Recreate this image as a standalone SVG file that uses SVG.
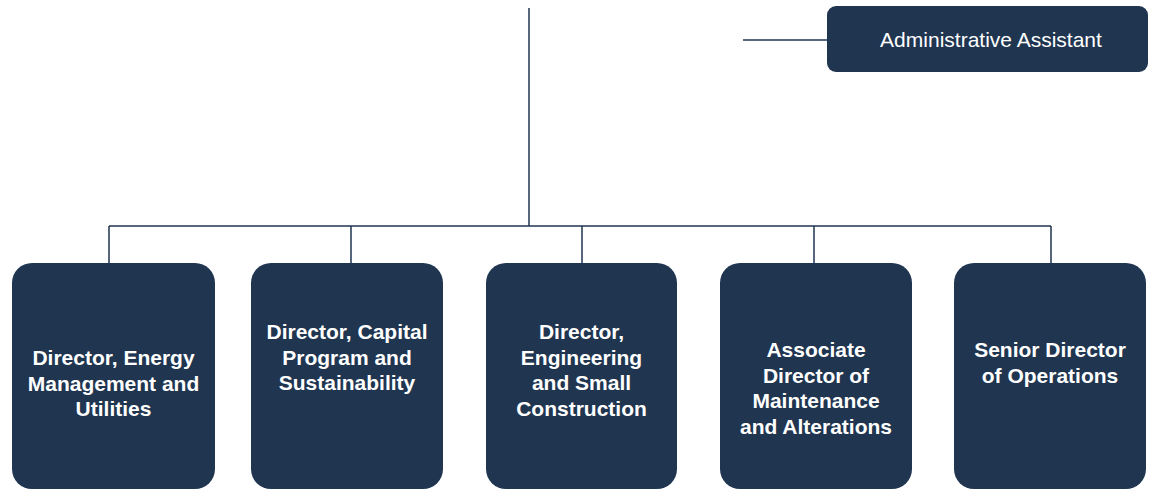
<svg xmlns="http://www.w3.org/2000/svg" width="1149" height="490" viewBox="0 0 1149 490">
<style>
.box{fill:#1f3550;}
.t{font-family:"Liberation Sans",Arial,sans-serif;font-size:21px;font-weight:bold;fill:#ffffff;text-anchor:middle;}
.ta{font-family:"Liberation Sans",Arial,sans-serif;font-size:21px;fill:#ffffff;text-anchor:middle;}
.c{stroke:#1f3550;stroke-width:1.5;fill:none;}
</style>
<rect width="1149" height="490" fill="#ffffff"/>
<g id="connectors">
<path class="c" d="M529 8 V226"/>
<path class="c" d="M109 226 H1051"/>
<path class="c" d="M109 226 V263 M351 226 V263 M582 226 V263 M814 226 V263 M1051 226 V263"/>
<path class="c" d="M743 40 H827"/>
</g>
<g id="admin">
<rect class="box" x="827" y="6" width="321" height="66" rx="9"/>
<text class="ta" x="991" y="47">Administrative Assistant</text>
</g>
<g id="n1">
<rect class="box" x="12" y="263" width="203" height="226" rx="20"/>
<text class="t" x="113.5" y="365">Director, Energy</text>
<text class="t" x="113.5" y="390.5">Management and</text>
<text class="t" x="113.5" y="416">Utilities</text>
</g>
<g id="n2">
<rect class="box" x="251" y="263" width="192" height="226" rx="20"/>
<text class="t" x="347" y="339">Director, Capital</text>
<text class="t" x="347" y="364.5">Program and</text>
<text class="t" x="347" y="390">Sustainability</text>
</g>
<g id="n3">
<rect class="box" x="486" y="263" width="191" height="226" rx="20"/>
<text class="t" x="581.5" y="339">Director,</text>
<text class="t" x="581.5" y="364.5">Engineering</text>
<text class="t" x="581.5" y="390">and Small</text>
<text class="t" x="581.5" y="415.5">Construction</text>
</g>
<g id="n4">
<rect class="box" x="720" y="263" width="192" height="226" rx="20"/>
<text class="t" x="816" y="357">Associate</text>
<text class="t" x="816" y="382.5">Director of</text>
<text class="t" x="816" y="408">Maintenance</text>
<text class="t" x="816" y="433.5">and Alterations</text>
</g>
<g id="n5">
<rect class="box" x="954" y="263" width="192" height="226" rx="20"/>
<text class="t" x="1050" y="357">Senior Director</text>
<text class="t" x="1050" y="382.5">of Operations</text>
</g>
</svg>
